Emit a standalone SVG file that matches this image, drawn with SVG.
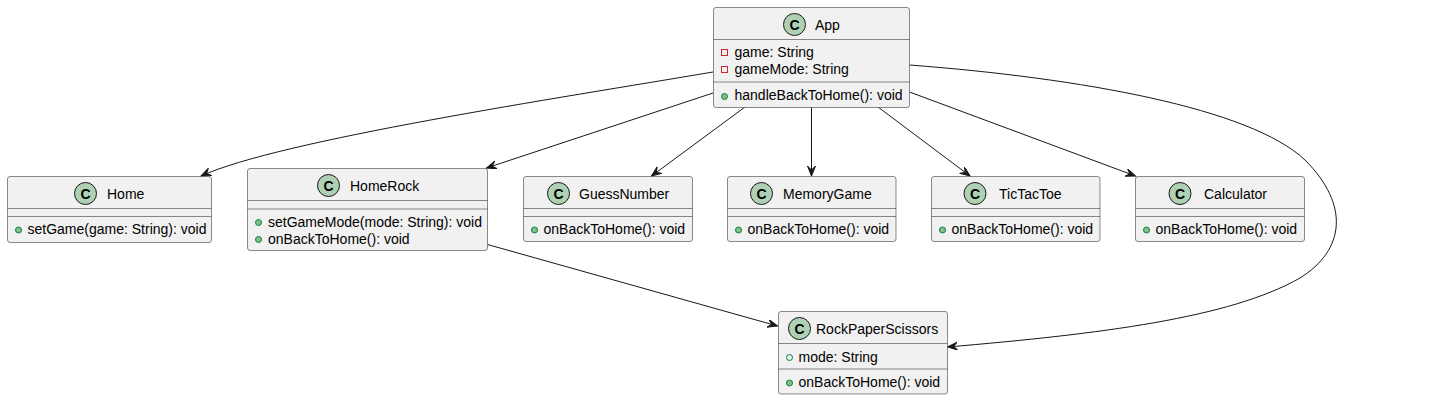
<svg xmlns="http://www.w3.org/2000/svg" width="1432" height="400" viewBox="0 0 1432 400">
<defs>
<marker id="arr" markerUnits="userSpaceOnUse" markerWidth="12" markerHeight="10" refX="10" refY="4" orient="auto" viewBox="0 0 12 10">
<path d="M0,0 L10,4 L0,8 L4,4 Z" fill="#181818" stroke="#181818" stroke-width="1" stroke-linejoin="miter"/>
</marker>
</defs>
<style>
.box{fill:#F1F1F1;stroke:#181818;stroke-width:0.5}
.sep{stroke:#181818;stroke-width:0.5}
.ci{fill:#ADD1B2;stroke:#181818;stroke-width:1}
.cl{font-family:"Liberation Sans",Arial,sans-serif;font-size:14px;font-weight:bold;text-anchor:middle;fill:#000}
.t{font-family:"Liberation Sans",Arial,sans-serif;font-size:14px;fill:#000}
.pm{fill:#84BE84;stroke:#038048;stroke-width:1}
.pf{fill:none;stroke:#038048;stroke-width:1}
.pr{fill:none;stroke:#C82930;stroke-width:1}
.e{fill:none;stroke:#181818;stroke-width:1;marker-end:url(#arr)}
</style>
<g id="connectors">
<path class="e" d="M713,72 C560,98 280,140 201,176"/>
<path class="e" d="M713,93 L486.5,168"/>
<path class="e" d="M745,107 L651.5,176"/>
<path class="e" d="M811.5,107 L811.5,176"/>
<path class="e" d="M878,107 L970,176"/>
<path class="e" d="M909.5,92 L1135.5,176"/>
<path class="e" d="M909.5,65 C1080,78 1250,108 1305,160 C1350,205 1345,250 1300,278 C1230,318 1100,334 947.5,347"/>
<path class="e" d="M487.5,244.5 L777.5,326"/>
</g>
<g id="App">
<rect class="box" x="713.5" y="7.5" width="196" height="100" rx="2.5"/>
<line class="sep" x1="713.5" y1="39.5" x2="909.5" y2="39.5"/>
<line class="sep" x1="713.5" y1="82" x2="909.5" y2="82"/>
<circle class="ci" cx="794.5" cy="24.5" r="11"/>
<text class="cl" x="794.5" y="29.5">C</text>
<text class="t" x="815" y="29.5">App</text>
<rect class="pr" x="721.5" y="49.5" width="6" height="6"/>
<text class="t" x="734.5" y="57">game: String</text>
<rect class="pr" x="721.5" y="66.5" width="6" height="6"/>
<text class="t" x="734.5" y="74">gameMode: String</text>
<circle class="pm" cx="724.5" cy="96.5" r="3"/>
<text class="t" x="734.5" y="100">handleBackToHome(): void</text>
</g>
<g id="Home">
<rect class="box" x="7.5" y="176.5" width="204" height="66" rx="2.5"/>
<line class="sep" x1="7.5" y1="208.5" x2="211.5" y2="208.5"/>
<line class="sep" x1="7.5" y1="216.5" x2="211.5" y2="216.5"/>
<circle class="ci" cx="85.5" cy="193.5" r="11"/>
<text class="cl" x="85.5" y="198.5">C</text>
<text class="t" x="107" y="198.5">Home</text>
<circle class="pm" cx="18.5" cy="230" r="3"/>
<text class="t" x="27.5" y="234">setGame(game: String): void</text>
</g>
<g id="HomeRock">
<rect class="box" x="247.5" y="168.5" width="240" height="82" rx="2.5"/>
<line class="sep" x1="247.5" y1="200.5" x2="487.5" y2="200.5"/>
<line class="sep" x1="247.5" y1="209" x2="487.5" y2="209"/>
<circle class="ci" cx="328.5" cy="185.5" r="11"/>
<text class="cl" x="328.5" y="190.5">C</text>
<text class="t" x="350" y="190.5">HomeRock</text>
<circle class="pm" cx="258.5" cy="222.5" r="3"/>
<text class="t" x="268" y="226.5">setGameMode(mode: String): void</text>
<circle class="pm" cx="258.5" cy="239.5" r="3"/>
<text class="t" x="268" y="243.5">onBackToHome(): void</text>
</g>
<g id="GuessNumber">
<rect class="box" x="523.5" y="176.5" width="169" height="65" rx="2.5"/>
<line class="sep" x1="523.5" y1="208.5" x2="692.5" y2="208.5"/>
<line class="sep" x1="523.5" y1="216.5" x2="692.5" y2="216.5"/>
<circle class="ci" cx="558.5" cy="193.5" r="11"/>
<text class="cl" x="558.5" y="198.5">C</text>
<text class="t" x="579" y="198.5">GuessNumber</text>
<circle class="pm" cx="534.5" cy="230" r="3"/>
<text class="t" x="543.5" y="234">onBackToHome(): void</text>
</g>
<g id="MemoryGame">
<rect class="box" x="727.5" y="176.5" width="168.5" height="65" rx="2.5"/>
<line class="sep" x1="727.5" y1="208.5" x2="896" y2="208.5"/>
<line class="sep" x1="727.5" y1="216.5" x2="896" y2="216.5"/>
<circle class="ci" cx="761.5" cy="193.5" r="11"/>
<text class="cl" x="761.5" y="198.5">C</text>
<text class="t" x="783" y="198.5">MemoryGame</text>
<circle class="pm" cx="738.5" cy="230" r="3"/>
<text class="t" x="747.5" y="234">onBackToHome(): void</text>
</g>
<g id="TicTacToe">
<rect class="box" x="931.5" y="176.5" width="168.5" height="65" rx="2.5"/>
<line class="sep" x1="931.5" y1="208.5" x2="1100" y2="208.5"/>
<line class="sep" x1="931.5" y1="216.5" x2="1100" y2="216.5"/>
<circle class="ci" cx="975" cy="193.5" r="11"/>
<text class="cl" x="975" y="198.5">C</text>
<text class="t" x="999" y="198.5">TicTacToe</text>
<circle class="pm" cx="942.5" cy="230" r="3"/>
<text class="t" x="951.5" y="234">onBackToHome(): void</text>
</g>
<g id="Calculator">
<rect class="box" x="1135.5" y="176.5" width="169" height="65" rx="2.5"/>
<line class="sep" x1="1135.5" y1="208.5" x2="1304.5" y2="208.5"/>
<line class="sep" x1="1135.5" y1="216.5" x2="1304.5" y2="216.5"/>
<circle class="ci" cx="1180" cy="193.5" r="11"/>
<text class="cl" x="1180" y="198.5">C</text>
<text class="t" x="1204" y="198.5">Calculator</text>
<circle class="pm" cx="1146.5" cy="230" r="3"/>
<text class="t" x="1155.5" y="234">onBackToHome(): void</text>
</g>
<g id="RockPaperScissors">
<rect class="box" x="778.5" y="311.5" width="169" height="82.5" rx="2.5"/>
<line class="sep" x1="778.5" y1="343.5" x2="947.5" y2="343.5"/>
<line class="sep" x1="778.5" y1="369" x2="947.5" y2="369"/>
<circle class="ci" cx="799.5" cy="328.5" r="11"/>
<text class="cl" x="799.5" y="333.5">C</text>
<text class="t" x="816" y="333.5">RockPaperScissors</text>
<circle class="pf" cx="789.5" cy="357.5" r="3"/>
<text class="t" x="798.5" y="361.5">mode: String</text>
<circle class="pm" cx="789.5" cy="383" r="3"/>
<text class="t" x="798.5" y="387">onBackToHome(): void</text>
</g>
</svg>
